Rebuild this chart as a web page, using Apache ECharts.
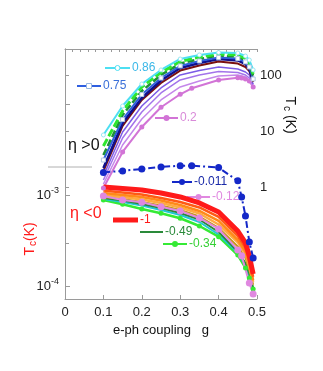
<!DOCTYPE html>
<html>
<head>
<meta charset="utf-8">
<script src="https://cdn.jsdelivr.net/npm/echarts@6/dist/echarts.min.js"></script>
<style>
  html, body { margin: 0; padding: 0; background: #fff; }
  #chart { width: 323px; height: 371px; }
</style>
</head>
<body>
<div id="chart"></div>
<script>
// coupling values g
const gLines = [0.1, 0.15, 0.2, 0.25, 0.3, 0.35, 0.4, 0.45, 0.47, 0.48, 0.49]
const gDots = [0.1, 0.15, 0.2, 0.25, 0.3, 0.33, 0.4, 0.45, 0.46, 0.47, 0.48, 0.49]
const gPink = [0.1, 0.15, 0.2, 0.25, 0.3, 0.35, 0.4, 0.45, 0.46, 0.48, 0.49]

// eta > 0, Tc in K (right axis)
const tcPos086 = [8.49, 27.9, 69.1, 123, 193, 228, 252, 247, 218, 185, 123]
const tcPosGreen = [5.40, 22.8, 61.1, 111, 174, 210, 237, 228, 197, 164, 104]
const tcPosDkGreen = [3.73, 19.3, 51.8, 100, 160, 193, 223, 214, 185, 151, 96]
const tcPos075 = [3.03, 16.0, 44.9, 88.4, 145, 178, 205, 197, 171, 139, 84.8]
const tcPosNavy = [2.18, 13.9, 38.8, 79.8, 133, 164, 193, 182, 157, 128, 78.1]
const tcPosMaroon = [1.93, 12.3, 35.8, 71.9, 120, 148, 174, 160, 139, 118, 75]
const tcPosPurple = [1.57, 9.60, 27.9, 58.6, 100, 120, 139, 128, 113, 100, 69.1]
const tcPosMedPurple = [1.33, 7.50, 21.8, 47.7, 81.4, 100, 115, 111, 100, 88.4, 66.3]
const tcPosViolet = [1.13, 5.62, 16.4, 35.8, 61.1, 78.1, 96, 100, 92.1, 81.4, 61.1]
const tcPos02 = [0.96, 4.22, 11.8, 26.5, 45.2, 57.9, 81.4, 89.5, 88.4, 84.8, 78.1, 61.1] // on gDots

// eta < 0, Tc in K (left axis)
const tcNeg0011 = [1.77e-3, 1.84e-3, 1.93e-3, 2.03e-3, 2.10e-3, 2.10e-3, 2.00e-3, 1.43e-3, 9.5e-4, 5.88e-4, 3.05e-4, 2.03e-4] // on gDots
const tcNeg012 = [9.75e-4, 8.81e-4, 8.31e-4, 7.44e-4, 6.67e-4, 5.59e-4, 4.23e-4, 2.49e-4, 2.15e-4, 1.08e-4, 8.17e-5] // on gPink
const tcNeg1 = [1.224e-3, 1.179e-3, 1.135e-3, 1.052e-3, 9.51e-4, 8.17e-4, 6.51e-4, 4.02e-4, 2.97e-4, 2.14e-4, 1.35e-4]
const tcNegOr1 = [1.12e-3, 1.065e-3, 1.013e-3, 9.27e-4, 8.38e-4, 7.29e-4, 5.73e-4, 3.54e-4, 2.62e-4, 1.88e-4, 1.26e-4]
const tcNegOr2 = [1.052e-3, 1.0e-3, 9.51e-4, 8.70e-4, 7.76e-4, 6.67e-4, 5.18e-4, 3.20e-4, 2.39e-4, 1.75e-4, 1.16e-4]
const tcNegOr3 = [1.0e-3, 9.51e-4, 8.92e-4, 8.17e-4, 7.29e-4, 6.26e-4, 4.74e-4, 3.01e-4, 2.25e-4, 1.64e-4, 1.11e-4]
const tcNegGold = [9.51e-4, 9.04e-4, 8.38e-4, 7.67e-4, 6.84e-4, 5.80e-4, 4.34e-4, 2.72e-4, 2.03e-4, 1.50e-4, 1.03e-4]
const tcNeg049 = [9.27e-4, 8.70e-4, 7.96e-4, 7.20e-4, 6.34e-4, 5.38e-4, 3.92e-4, 2.39e-4, 1.79e-4, 1.37e-4, 9.51e-5]
const tcNegCyan = [9.04e-4, 8.38e-4, 7.67e-4, 6.84e-4, 6.03e-4, 5.05e-4, 3.68e-4, 2.31e-4, 1.70e-4, 1.32e-4, 9.04e-5]
const tcNeg034 = [8.81e-4, 7.90e-4, 7.02e-4, 6.29e-4, 5.55e-4, 4.56e-4, 3.48e-4, 2.19e-4, 1.58e-4, 1.22e-4, 9.27e-5]

const xTicks = [0, 0.1, 0.2, 0.3, 0.4, 0.5]

const FONT = 'Liberation Sans, Arial, sans-serif'
const AXIS_GRAY = '#9a9a9a'

const pairs = (xs, ys) => ys.map((v, i) => [xs[i], v])

// a plain line series
const line = (name, xs, ys, axis, color, width, extra) => Object.assign({
  name,
  type: 'line',
  yAxisIndex: axis,
  data: pairs(xs, ys),
  showSymbol: false,
  symbol: 'none',
  lineStyle: { color, width },
  itemStyle: { color },
  silent: true,
  animation: false
}, extra || {})

const withDots = (color, size) => ({
  showSymbol: true,
  symbol: 'circle',
  symbolSize: size,
  itemStyle: { color }
})

const series = [
  // eta > 0
  line('0.2', gDots, tcPos02, 1, '#d274d6', 2, withDots('#d274d6', 5)),
  line('v', gLines, tcPosViolet, 1, '#c487ea', 1.5),
  line('mp', gLines, tcPosMedPurple, 1, '#a374ea', 1.5),
  line('p', gLines, tcPosPurple, 1, '#7b5be6', 1.5),
  line('maroon', gLines, tcPosMaroon, 1, '#7a1010', 2),
  line('navy', gLines, tcPosNavy, 1, '#10108c', 2.5),
  line('0.75', gLines, tcPos075, 1, '#2f5fe0', 2, {
    showSymbol: true, symbol: 'rect', symbolSize: 4,
    itemStyle: { color: '#fff', borderColor: '#b0c8e4', borderWidth: 1 }
  }),
  line('dg', gLines, tcPosDkGreen, 1, '#1f8f3a', 2.5, {
    lineStyle: { color: '#1f8f3a', width: 2.5, type: [7, 3] }
  }),
  line('g', gLines, tcPosGreen, 1, '#2ee62e', 3, {
    lineStyle: { color: '#2ee62e', width: 3, type: [8, 3] }
  }),
  line('0.86', gLines, tcPos086, 1, '#4ddff2', 2, {
    showSymbol: true, symbol: 'circle', symbolSize: 4,
    itemStyle: { color: '#fff', borderColor: '#9ae8f2', borderWidth: 1 }
  }),
  // eta < 0
  line('-0.34', gLines, tcNeg034, 0, '#35ea35', 2.5, withDots('#35ea35', 5)),
  line('cy', gLines, tcNegCyan, 0, '#1ec8d8', 2),
  line('-0.49', gLines, tcNeg049, 0, '#2a8a3a', 2),
  line('gold', gLines, tcNegGold, 0, '#c8961e', 2),
  line('o3', gLines, tcNegOr3, 0, '#ffab40', 2.5),
  line('o2', gLines, tcNegOr2, 0, '#ff8a1a', 2.5),
  line('o1', gLines, tcNegOr1, 0, '#ff5a14', 2.5),
  line('-0.12', gPink, tcNeg012, 0, '#e088e0', 2, withDots('#e088e0', 7)),
  line('-1', gLines, tcNeg1, 0, '#ff1a1a', 5),
  line('-0.011', gDots, tcNeg0011, 0, '#1428c8', 2, Object.assign(withDots('#1428c8', 7), {
    lineStyle: { color: '#1428c8', width: 2, type: [7, 3, 2, 3] }
  }))
]

// legend keys drawn next to curves
const key = (x1, x2, y, color, width, label, textColor, mark) => {
  const out = [{
    type: 'line', shape: { x1, y1: y, x2, y2: y },
    style: { stroke: color, lineWidth: width }, silent: true
  }]
  const mx = (x1 + x2) / 2
  if (mark === 'dot') out.push({ type: 'circle', shape: { cx: mx, cy: y, r: 3 }, style: { fill: color } })
  if (mark === 'open') out.push({ type: 'circle', shape: { cx: mx, cy: y, r: 2.5 }, style: { fill: '#fff', stroke: color, lineWidth: 1 } })
  if (mark === 'square') out.push({ type: 'rect', shape: { x: mx - 2.5, y: y - 2.5, width: 5, height: 5 }, style: { fill: '#fff', stroke: '#9ab8e0', lineWidth: 1 } })
  out.push({
    type: 'text', x: x2 + 2, y,
    style: { text: label, fill: textColor, font: '12px ' + FONT, verticalAlign: 'middle', align: 'left' }
  })
  return out
}

const graphic = [].concat(
  key(105, 130, 68, '#4ddff2', 2, '0.86', '#3bb8e8', 'open'),
  key(77, 101, 86, '#2f5fe0', 2, '0.75', '#3a6fd8', 'square'),
  key(155, 178, 118, '#d274d6', 2, '0.2', '#d98ad9', 'dot'),
  key(172, 192, 182, '#1428c8', 2, '-0.011', '#1a2aa8', 'dot'),
  key(187, 210, 197, '#e088e0', 2, '-0.12', '#e088e0', 'dot'),
  key(113, 138, 220, '#ff1a1a', 5, '-1', '#ff1a1a'),
  key(140, 163, 232, '#2a8a3a', 2, '-0.49', '#2a8a3a'),
  key(163, 187, 244, '#35ea35', 2, '-0.34', '#35d035', 'dot'),
  [
    {
      type: 'line', shape: { x1: 48, y1: 167, x2: 92, y2: 167 },
      style: { stroke: '#b0b0b0', lineWidth: 1 }
    },
    {
      type: 'text', x: 68, y: 146,
      style: { text: 'η >0', fill: '#111', font: '16px ' + FONT, verticalAlign: 'middle' }
    },
    {
      type: 'text', x: 70, y: 214,
      style: { text: 'η <0', fill: '#ff1a1a', font: '16px ' + FONT, verticalAlign: 'middle' }
    },
    {
      type: 'text', x: 290, y: 115, rotation: -Math.PI / 2,
      style: {
        text: '{m|T}{s|c}{m| (K)}', fill: '#111', align: 'center', verticalAlign: 'middle',
        rich: {
          m: { fontSize: 14, fontFamily: FONT, fill: '#111' },
          s: { fontSize: 10, fontFamily: FONT, fill: '#111', padding: [6, 0, 0, 1] }
        }
      }
    },
    {
      type: 'text', x: 30, y: 239, rotation: Math.PI / 2,
      style: {
        text: '{m|T}{s|c}{m|(K)}', fill: '#ff1a1a', align: 'center', verticalAlign: 'middle',
        rich: {
          m: { fontSize: 14, fontFamily: FONT, fill: '#ff1a1a' },
          s: { fontSize: 10, fontFamily: FONT, fill: '#ff1a1a', padding: [6, 0, 0, 1] }
        }
      }
    },
    {
      type: 'text', x: 161, y: 330,
      style: { text: 'e-ph coupling   g', fill: '#111', font: '13px ' + FONT, align: 'center', verticalAlign: 'middle' }
    }
  ]
)

const chart = echarts.init(document.getElementById('chart'), null, { renderer: 'canvas' })

chart.setOption({
  animation: false,
  backgroundColor: '#fff',
  grid: { left: 65, right: 66, top: 49, bottom: 72 },
  xAxis: [
    {
      type: 'value', min: xTicks[0], max: xTicks[xTicks.length - 1], interval: 0.1,
      axisLine: { lineStyle: { color: AXIS_GRAY } },
      axisTick: { inside: true, length: 4, lineStyle: { color: AXIS_GRAY } },
      axisLabel: { color: '#222', fontSize: 13, fontFamily: FONT, margin: 7 },
      splitLine: { show: false }
    },
    {
      type: 'value', position: 'top', min: 0, max: 0.5, interval: 0.02,
      axisLine: { show: true, lineStyle: { color: AXIS_GRAY } },
      axisTick: { inside: true, length: 3, lineStyle: { color: AXIS_GRAY } },
      axisLabel: { show: false },
      splitLine: { show: false }
    }
  ],
  yAxis: [
    {
      type: 'log', logBase: 10, min: 7.19e-5, max: 0.0402, position: 'left',
      axisLine: { show: true, lineStyle: { color: AXIS_GRAY } },
      axisTick: { inside: true, length: 5, lineStyle: { color: AXIS_GRAY } },
      axisLabel: {
        margin: 6,
        formatter: (v) => {
          const e = Math.round(Math.log10(v))
          if (Math.abs(Math.log10(v) - e) > 0.01) return ''
          if (e !== -3 && e !== -4) return ''
          return '{b|10}{s|' + e + '}'
        },
        rich: {
          b: { fontSize: 13, fontFamily: FONT, color: '#222' },
          s: { fontSize: 9, fontFamily: FONT, color: '#222', padding: [0, 0, 8, 0] }
        }
      },
      splitLine: { show: false }
    },
    {
      type: 'log', logBase: 10, min: 0.01, max: 291, position: 'right',
      axisLine: { show: true, lineStyle: { color: AXIS_GRAY } },
      axisTick: { inside: false, length: 4, lineStyle: { color: AXIS_GRAY } },
      axisLabel: {
        margin: 3, color: '#222', fontSize: 13, fontFamily: FONT,
        formatter: (v) => {
          const e = Math.round(Math.log10(v))
          if (Math.abs(Math.log10(v) - e) > 0.01 || e < 0) return ''
          return String(Math.pow(10, e))
        }
      },
      splitLine: { show: false }
    }
  ],
  series,
  graphic
})
</script>
</body>
</html>
